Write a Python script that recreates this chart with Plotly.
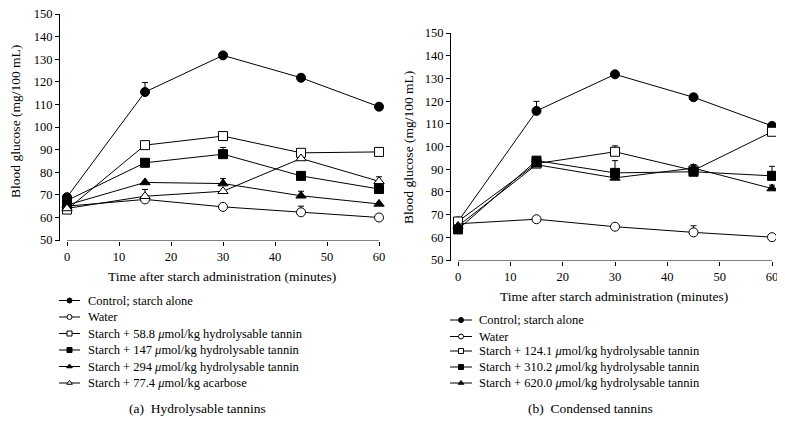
import plotly.graph_objects as go

### Data ###
time_min = [0, 15, 30, 45, 60]

# (a) Hydrolysable tannins
control_a = [69, 115.5, 131.7, 121.8, 109]
control_a_err = [0, 4.2, 0.8, 1.5, 0.8]
water_a = [65, 68, 64.7, 62.3, 60]
water_a_err = [0, 0, 0, 2.7, 0]
ht58_a = [63.5, 92, 96, 88.6, 89]
ht58_a_err = [0, 0, 0, 0, 0]
ht147_a = [67.5, 84.2, 88, 78.4, 72.6]
ht147_a_err = [0, 1.2, 3, 0, 0]
ht294_a = [65.5, 75.5, 75, 69.6, 66]
ht294_a_err = [0, 0, 2.2, 2, 0]
acarbose_a = [64, 69.4, 71.6, 86.1, 76]
acarbose_a_err = [0, 3, 0, 0, 2]

# (b) Condensed tannins
control_b = [67, 115.7, 131.8, 121.7, 109.1]
control_b_err = [0, 4.2, 0.5, 1.5, 1]
water_b = [66, 68, 64.7, 62.2, 60.1]
water_b_err = [0, 0, 0, 2.9, 0]
ct124_b = [67, 92.5, 97.7, 89.5, 106.5]
ct124_b_err = [0, 0, 2.6, 0, 0]
ct310_b = [63.5, 93.8, 88.4, 88.9, 87.1]
ct310_b_err = [0, 0, 5.4, 0, 4.2]
ct620_b = [65, 92, 86.2, 90.5, 81.5]
ct620_b_err = [0, 0, 0, 1.6, 1.5]

labels_a = [
    "Control; starch alone",
    "Water",
    "Starch + 58.8 <i>μ</i>mol/kg hydrolysable tannin",
    "Starch + 147 <i>μ</i>mol/kg hydrolysable tannin",
    "Starch + 294 <i>μ</i>mol/kg hydrolysable tannin",
    "Starch + 77.4 <i>μ</i>mol/kg acarbose",
]
labels_b = [
    "Control; starch alone",
    "Water",
    "Starch + 124.1 <i>μ</i>mol/kg hydrolysable tannin",
    "Starch + 310.2 <i>μ</i>mol/kg hydrolysable tannin",
    "Starch + 620.0 <i>μ</i>mol/kg hydrolysable tannin",
]
x_ticks = [0, 10, 20, 30, 40, 50, 60]
y_ticks = [50, 60, 70, 80, 90, 100, 110, 120, 130, 140, 150]

### Styles ###
# the page body has an 8px margin, so the figure is shrunk and offset by it
PAD = 8
W, H = 785 - PAD, 436 - PAD
FONT = "Liberation Serif"
symbols = ["circle", "circle-open", "square-open", "square", "triangle-up", "triangle-up-open"]


def px_x(p):
    return (p - PAD) / W


def px_y(p):
    return 1 - (p - PAD) / H


def marker_style(symbol, size):
    open_marker = symbol.endswith("-open")
    return dict(
        symbol=symbol.replace("-open", ""),
        size=size,
        color="white" if open_marker else "black",
        line=dict(color="black", width=1),
    )


fig = go.Figure()


def add_series(ys, errs, symbol, xa, ya):
    fig.add_trace(go.Scatter(
        x=time_min, y=ys, mode="lines+markers",
        line=dict(color="black", width=1),
        marker=marker_style(symbol, 9),
        error_y=dict(type="data", symmetric=False, array=errs,
                     arrayminus=[0] * len(errs), color="black",
                     thickness=1, width=3),
        xaxis=xa, yaxis=ya, showlegend=False, hoverinfo="skip",
    ))


series_a = [
    (control_a, control_a_err), (water_a, water_a_err), (ht58_a, ht58_a_err),
    (ht147_a, ht147_a_err), (ht294_a, ht294_a_err), (acarbose_a, acarbose_a_err),
]
for (ys, errs), sym in zip(series_a, symbols):
    add_series(ys, errs, sym, "x", "y")

series_b = [
    (control_b, control_b_err), (water_b, water_b_err), (ct124_b, ct124_b_err),
    (ct310_b, ct310_b_err), (ct620_b, ct620_b_err),
]
for (ys, errs), sym in zip(series_b, symbols[:5]):
    add_series(ys, errs, sym, "x2", "y2")


# hand-drawn legends on a pixel-space overlay axis
def add_legend(labels, x_left, x_right, text_x, rows):
    for lab, sym, ry in zip(labels, symbols, rows):
        fig.add_trace(go.Scatter(
            x=[x_left, x_right], y=[ry, ry],
            mode="lines", line=dict(color="black", width=1),
            xaxis="x3", yaxis="y3", showlegend=False, hoverinfo="skip",
        ))
        fig.add_trace(go.Scatter(
            x=[(x_left + x_right) / 2], y=[ry], mode="markers",
            marker=marker_style(sym, 5),
            xaxis="x3", yaxis="y3", showlegend=False, hoverinfo="skip",
        ))
        fig.add_annotation(text=lab, x=text_x, y=ry, xref="x3", yref="y3",
                           xanchor="left", yanchor="middle", showarrow=False,
                           font=dict(size=12.5))


add_legend(labels_a, 59, 80, 86, [300.5, 317, 333.5, 350, 366.5, 383])
add_legend(labels_b, 450, 472, 477, [320, 336.5, 351, 367, 383])

### Axes ###
tickfont = dict(family=FONT, size=12.5, color="black")
axis_common = dict(showgrid=False, zeroline=False, ticks="outside", ticklen=4,
                   tickwidth=1, tickcolor="black", tickfont=tickfont,
                   automargin=False, ticklabeloverflow="allow")
hidden = dict(visible=False, showgrid=False, zeroline=False, automargin=False,
              fixedrange=True)

fig.update_layout(
    width=W, height=H,
    margin=dict(l=0, r=0, t=0, b=0, autoexpand=False),
    paper_bgcolor="white", plot_bgcolor="rgba(0,0,0,0)",
    font=dict(family=FONT, size=12, color="black"),
    showlegend=False,
    xaxis=dict(domain=[px_x(59), px_x(385)], range=[-1.54, 61.15],
               tickvals=x_ticks, showline=False, anchor="y", **axis_common),
    yaxis=dict(domain=[px_y(241), px_y(14)], range=[49.6, 150],
               tickvals=y_ticks, showline=True, linecolor="black", linewidth=1,
               anchor="free", position=px_x(59), **axis_common),
    xaxis2=dict(domain=[px_x(450), px_x(776)], range=[-1.53, 60.76],
                tickvals=x_ticks, showline=False, anchor="y2", **axis_common),
    yaxis2=dict(domain=[px_y(261), px_y(33)], range=[49.6, 150],
                tickvals=y_ticks, showline=True, linecolor="black", linewidth=1,
                anchor="free", position=px_x(450), **axis_common),
    xaxis3=dict(domain=[0, 1], range=[PAD, 785], anchor="y3", **hidden),
    yaxis3=dict(domain=[0, 1], range=[436, PAD], anchor="x3", **hidden),
)

# detached x-axis lines spanning 0..60
for xr, yr in [("x", "y"), ("x2", "y2")]:
    fig.add_shape(type="line", xref=xr, yref=yr, x0=0, x1=60, y0=49.6, y1=49.6,
                  line=dict(color="black", width=1))

### Titles and captions ###
notes = [
    ("Blood glucose (mg/100 mL)", 15, 122, -90),
    ("Blood glucose (mg/100 mL)", 408, 148, -90),
    ("Time after starch administration (minutes)", 222, 276, 0),
    ("Time after starch administration (minutes)", 614, 296, 0),
    ("(a)  Hydrolysable tannins", 197, 408, 0),
    ("(b)  Condensed tannins", 590, 408, 0),
]
for text, nx, ny, ang in notes:
    fig.add_annotation(text=text, textangle=ang, x=nx, y=ny, xref="x3", yref="y3",
                       showarrow=False, font=dict(size=13.5))

fig.write_html("out.html")
